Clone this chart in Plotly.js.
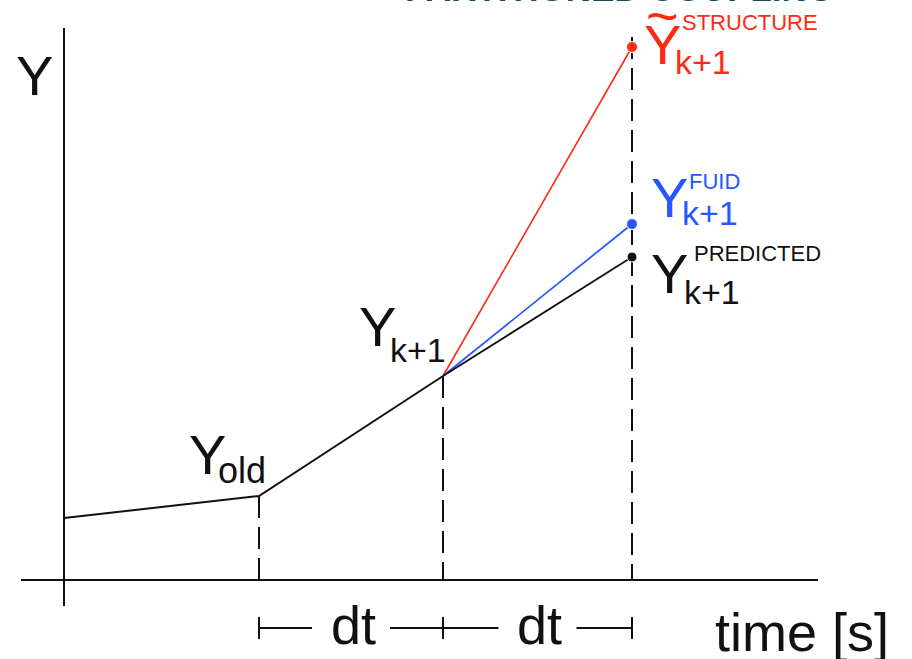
<!DOCTYPE html>
<html>
<head>
<meta charset="utf-8">
<script src="https://cdn.plot.ly/plotly-3.0.1.min.js"></script>
<style>
  html, body { margin: 0; padding: 0; background: #ffffff; }
  #chart { width: 912px; height: 659px; }
</style>
</head>
<body>
<div id="chart"></div>
<script>
// Time stations: origin, t_old, t_k+1, t_k+2 (arbitrary units)
const tStations = [0, 195, 379, 568];
// Displacement history up to the current step
const yHistory = [62, 84, 204];
// Values at t_k+2 for the three estimates
const yPredicted = 323;
const yFluid = 356;
const yStructure = 533;

const FONT = "Liberation Sans, Arial, Helvetica, sans-serif";
const BLACK = "#111111";
const RED = "#ff2a14";
const BLUE = "#2457ff";

const tOld = tStations[1], tK1 = tStations[2], tK2 = tStations[3];
const yK1 = yHistory[2];

const traces = [
  { x: tStations.slice(0, 3), y: yHistory, mode: "lines",
    line: { color: BLACK, width: 2 }, hoverinfo: "skip" },
  { x: [tK1, tK2], y: [yK1, yStructure], mode: "lines+markers",
    line: { color: RED, width: 1.6 }, marker: { color: RED, size: [0, 11], opacity: 1 }, hoverinfo: "skip" },
  { x: [tK1, tK2], y: [yK1, yFluid], mode: "lines+markers",
    line: { color: BLUE, width: 1.7 }, marker: { color: BLUE, size: [0, 11], opacity: 1 }, hoverinfo: "skip" },
  { x: [tK1, tK2], y: [yK1, yPredicted], mode: "lines+markers",
    line: { color: BLACK, width: 1.8 }, marker: { color: BLACK, size: [0, 10], opacity: 1 }, hoverinfo: "skip" }
];

// Axes and construction lines
const seg = (x0, y0, x1, y1, extra) => Object.assign(
  { type: "line", xref: "x", yref: "y", x0, y0, x1, y1, line: { color: BLACK, width: 2 }, layer: "below" },
  extra || {});
const dash = { line: { color: BLACK, width: 2, dash: "22px,9px" } };

const dtY = -48, dtTick = 11, dtGap = 39;
const mid1 = (tOld + tK1) / 2, mid2 = (tK1 + tK2) / 2;

const shapes = [
  seg(-43, 0, 754, 0),                 // time axis
  seg(0, -26, 0, 552),                 // Y axis
  seg(tOld, yHistory[1], tOld, 0, dash),
  seg(tK1, yK1, tK1, 0, dash),
  seg(tK2, 543, tK2, 0, dash),
  // dt dimension bars
  seg(tOld, dtY - dtTick, tOld, dtY + dtTick),
  seg(tK1, dtY - dtTick, tK1, dtY + dtTick),
  seg(tK2, dtY - dtTick, tK2, dtY + dtTick),
  seg(tOld, dtY, mid1 - dtGap, dtY),
  seg(mid1 + dtGap, dtY, mid2 - dtGap, dtY),
  seg(mid2 + dtGap, dtY, tK2, dtY)
];

const txt = (text, x, y, size, color, extra) => Object.assign({
  text, x, y, xref: "x", yref: "y", showarrow: false,
  xanchor: "center", yanchor: "middle",
  font: { family: FONT, size, color: color || BLACK }
}, extra || {});

const annotations = [
  txt("PARTITIONED COUPLING", 555, 569.5, 35, "#1d4b5c", { yanchor: "bottom", font: { family: FONT, size: 35, color: "#1d4b5c", weight: 700 } }),
  txt("Y", -30, 505, 56),
  txt("time [s]", 738, -52, 54),
  txt("dt", mid1 + 2, -45, 54),
  txt("dt", mid2 + 2, -45, 54),
  // Y_old
  txt("Y", 143, 126, 56),
  txt("old", 178, 110, 36),
  // Y_k+1
  txt("Y", 313, 254, 56),
  txt("k+1", 354, 230, 34),
  // predicted
  txt("Y", 605, 307, 56),
  txt("PREDICTED", 693, 327, 22),
  txt("k+1", 648, 288, 34),
  // fluid
  txt("Y", 605, 383, 56, BLUE),
  txt("FUID", 650, 399, 22, BLUE),
  txt("k+1", 646, 367, 34, BLUE),
  // structure
  txt("Y", 598, 536, 56, RED),
  txt("~", 598, 565, 56, RED),
  txt("STRUCTURE", 686, 558, 22, RED),
  txt("k+1", 639, 518, 34, RED)
];

const axisOff = { showgrid: false, zeroline: false, showticklabels: false, showline: false, ticks: "", fixedrange: true };

const layout = {
  width: 912, height: 659,
  margin: { l: 0, r: 0, t: 0, b: 0 },
  paper_bgcolor: "#ffffff", plot_bgcolor: "#ffffff",
  showlegend: false,
  xaxis: Object.assign({ range: [-64, 848] }, axisOff),
  yaxis: Object.assign({ range: [-79, 580] }, axisOff),
  shapes, annotations
};

Plotly.newPlot("chart", traces, layout, { staticPlot: true, displayModeBar: false });
</script>
</body>
</html>
